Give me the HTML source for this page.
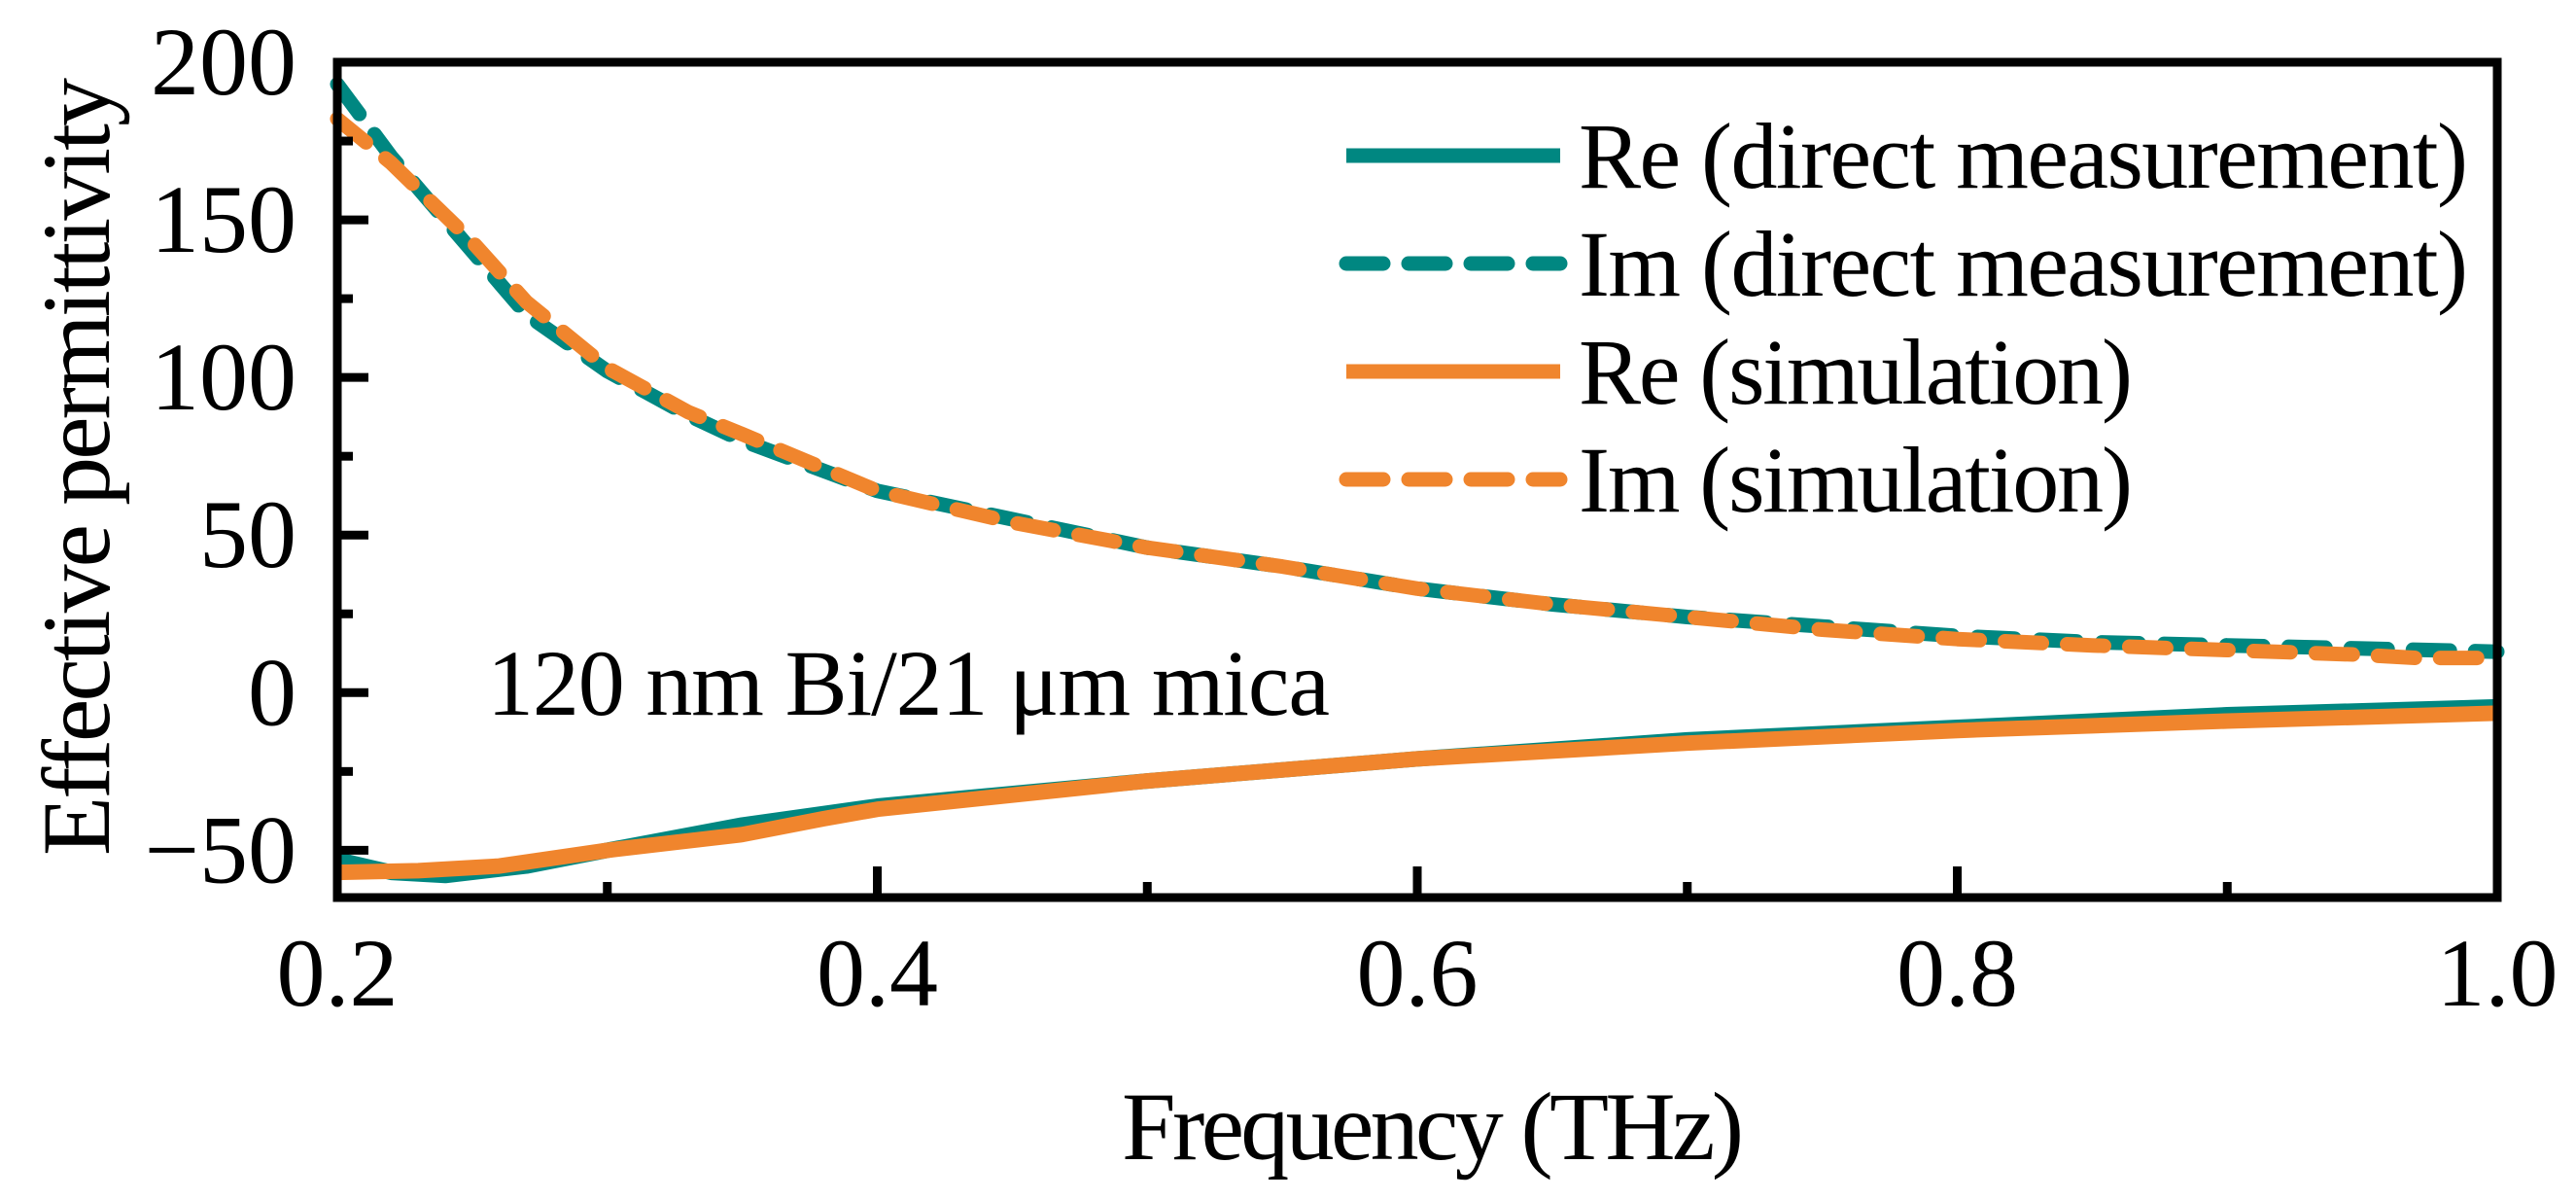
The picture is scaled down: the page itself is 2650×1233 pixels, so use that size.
<!DOCTYPE html>
<html><head><meta charset="utf-8"><style>
html,body{margin:0;padding:0;background:#fff}
svg{display:block;font-family:"Liberation Serif","DejaVu Serif",serif}
</style></head><body>
<svg id="chart" width="2650" height="1233" viewBox="0 0 2650 1233" xmlns="http://www.w3.org/2000/svg">
<g id="series"></g>
<rect x="347" y="64" width="2222" height="859" fill="none" stroke="#000" stroke-width="9"/>
<g id="axes"></g>
<text x="1474" y="1192" font-size="100" text-anchor="middle" textLength="640">Frequency (THz)</text>
<text transform="translate(112,480) rotate(-90)" font-size="100" text-anchor="middle" textLength="800">Effective permittivity</text>
<text x="501" y="735" font-size="96" textLength="867">120 nm Bi/21 μm mica</text>
<g id="legend"></g>
</svg>
<script>
const NS="http://www.w3.org/2000/svg";
const xTicks=[0.2,0.4,0.6,0.8,1.0];
const xTickLabels=["0.2","0.4","0.6","0.8","1.0"];
const yTicks=[-50,0,50,100,150,200];
const yTickLabels=["\u221250","0","50","100","150","200"];
const imDirectF=[0.2,0.22,0.25,0.27,0.3,0.33,0.35,0.4,0.45,0.5,0.55,0.6,0.65,0.7,0.75,0.8,0.85,0.9,0.95,1.0];
const imDirectV=[193,170,140,120,102,88,80,64,55,46,40,33,28,24,21,18,16,15,14,13];
const imSimF=[0.2,0.22,0.25,0.27,0.3,0.33,0.35,0.4,0.45,0.5,0.55,0.6,0.65,0.7,0.75,0.8,0.85,0.9,0.95,0.97,1.0];
const imSimV=[182,168,143,124,103,89,82,64,54,46,40,33,28,24,20,17,15,13.5,12,11,11];
const reDirectF=[0.2,0.22,0.24,0.27,0.3,0.35,0.4,0.5,0.6,0.7,0.8,0.9,1.0];
const reDirectV=[-53,-57,-58,-55,-50,-42,-36,-28,-21,-15,-11,-7,-4.5];
const reSimF=[0.2,0.23,0.26,0.3,0.33,0.35,0.38,0.4,0.5,0.6,0.7,0.8,0.9,1.0];
const reSimV=[-57,-56.5,-55,-50,-47,-45,-40,-37,-28,-21,-16,-12,-9,-6.5];
const L=347,R=2569,T=64,B=923,X0=0.2,X1=1.0,Y0=-65,Y1=200;
const xs=v=>L+(v-X0)/(X1-X0)*(R-L);
const ys=v=>B-(v-Y0)/(Y1-Y0)*(B-T);
const TEAL="#008781",ORANGE="#f0852d";
const sg=document.getElementById('series');
function line(F,V,color,dash,name){
  const p=document.createElementNS(NS,'polyline');
  p.setAttribute('points',F.map((f,i)=>xs(f).toFixed(1)+','+ys(V[i]).toFixed(1)).join(' '));
  p.setAttribute('fill','none');p.setAttribute('stroke',color);
  p.setAttribute('stroke-width',dash?15:16);p.setAttribute('stroke-linejoin','round');
  if(dash){p.setAttribute('stroke-dasharray','38 26');p.setAttribute('stroke-linecap','round');}
  
  
  sg.appendChild(p);
}
line(reDirectF,reDirectV,TEAL,false,'re-direct-line');
line(imDirectF,imDirectV,TEAL,true,'im-direct-line');
line(reSimF,reSimV,ORANGE,false,'re-sim-line');
line(imSimF,imSimV,ORANGE,true,'im-sim-line');
const ag=document.getElementById('axes');
function el(tag,attrs,txt){const e=document.createElementNS(NS,tag);for(const k in attrs)e.setAttribute(k,attrs[k]);if(txt!==undefined)e.textContent=txt;ag.appendChild(e);return e;}
xTicks.forEach((t,i)=>{
  const x=xs(t);
  const tk=el('line',{x1:x,x2:x,y1:B,y2:B-32,stroke:'#000','stroke-width':9});
  
  
  const lb=el('text',{x:x,y:1034,'font-size':100,'text-anchor':'middle'},xTickLabels[i]);
  
  
  if(i<xTicks.length-1){
    const xm=xs(t+0.1);
    const mt=el('line',{x1:xm,x2:xm,y1:B,y2:B-16,stroke:'#000','stroke-width':9});
    
    
  }
});
yTicks.forEach((t,i)=>{
  const y=ys(t);
  const tk=el('line',{x1:L,x2:L+32,y1:y,y2:y,stroke:'#000','stroke-width':9});
  
  
  const lb=el('text',{x:305,y:y+33,'font-size':100,'text-anchor':'end'},yTickLabels[i]);
  
  
  if(i<yTicks.length-1){
    const ym=ys(t+25);
    const mt=el('line',{x1:L,x2:L+16,y1:ym,y2:ym,stroke:'#000','stroke-width':9});
    
    
  }
});
const legendLabels=["Re (direct measurement)","Im (direct measurement)","Re (simulation)","Im (simulation)"];
const legendColors=[TEAL,TEAL,ORANGE,ORANGE];
const legendDash=[false,true,false,true];
const legendWidths=[915,915,570,570];
const lg=document.getElementById('legend');
legendLabels.forEach((s,i)=>{
  const y=160+i*111;
  const ln=document.createElementNS(NS,'line');
  ln.setAttribute('x1',1385);ln.setAttribute('x2',1605);ln.setAttribute('y1',y);ln.setAttribute('y2',y);
  ln.setAttribute('stroke',legendColors[i]);ln.setAttribute('stroke-width',15);
  if(legendDash[i]){ln.setAttribute('stroke-dasharray','38 26');ln.setAttribute('stroke-linecap','round');}
  
  
  lg.appendChild(ln);
  const tx=document.createElementNS(NS,'text');
  tx.setAttribute('x',1624);tx.setAttribute('y',y+33);tx.setAttribute('font-size',96);
  tx.setAttribute('textLength',legendWidths[i]);
  tx.textContent=s;
  
  
  lg.appendChild(tx);
});
</script>
</body></html>
